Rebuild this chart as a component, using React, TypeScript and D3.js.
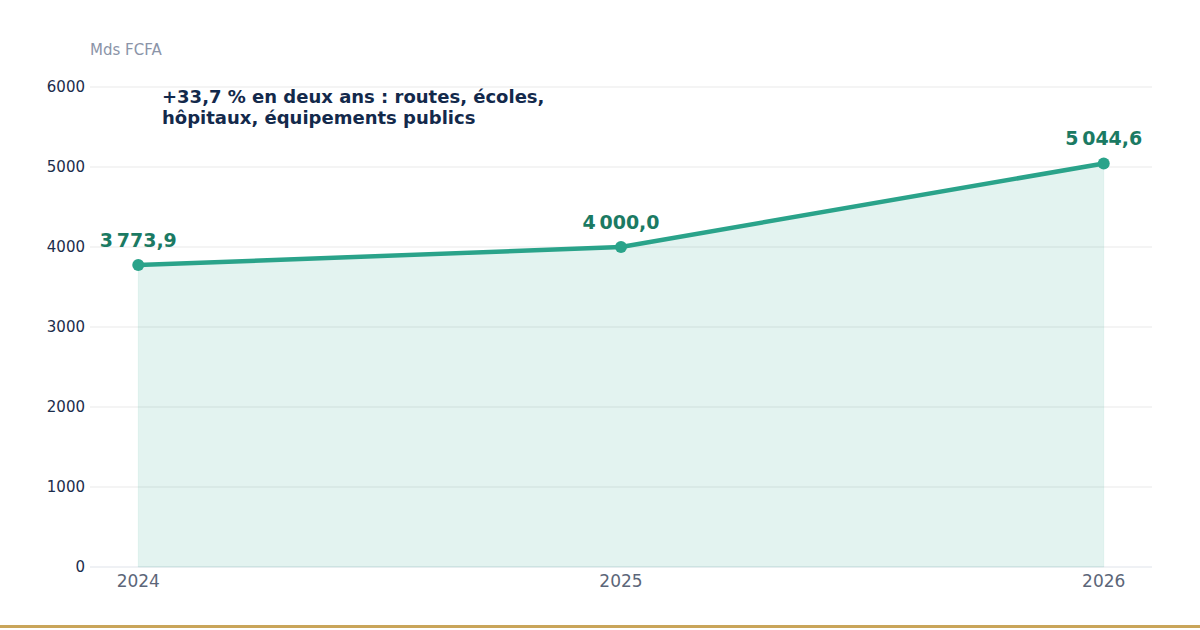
import * as d3 from "d3";
import { useEffect, useRef } from "react";

const years = ["2024", "2025", "2026"];
const values = [3773.9, 4000.0, 5044.6];
const valueLabels = ["3\u202f773,9", "4\u202f000,0", "5\u202f044,6"];
const yTicks = [0, 1000, 2000, 3000, 4000, 5000, 6000];
const unitLabel = "Mds FCFA";
const noteLines = ["+33,7 % en deux ans : routes, écoles,", "hôpitaux, équipements publics"];

export default function App() {
  const ref = useRef<SVGSVGElement | null>(null);

  useEffect(() => {
    document.body.style.margin = "0";
    if (!ref.current) return;

    const width = 1200;
    const height = 630;
    const margin = { top: 87, right: 48, bottom: 63, left: 90 };
    const font = "'DejaVu Sans', sans-serif";
    const svg = d3.select(ref.current);
    svg.selectAll("*").remove();

    svg.append("rect").attr("width", width).attr("height", height).attr("fill", "#ffffff");

    const x = d3
      .scalePoint<string>()
      .domain(years)
      .range([margin.left, width - margin.right])
      .padding(0.1);
    const y = d3
      .scaleLinear()
      .domain([0, 6000])
      .range([height - margin.bottom, margin.top]);

    // grid
    svg
      .append("g")
      .selectAll("line")
      .data(yTicks)
      .join("line")
      .attr("x1", margin.left)
      .attr("x2", width - margin.right)
      .attr("y1", (d) => y(d))
      .attr("y2", (d) => y(d))
      .attr("stroke", (d) => (d === 0 ? "#dfe3ea" : "#e9e9e9"))
      .attr("stroke-width", 1);

    // y tick labels
    svg
      .append("g")
      .selectAll("text")
      .data(yTicks)
      .join("text")
      .attr("x", margin.left - 5)
      .attr("y", (d) => y(d))
      .attr("dy", "0.35em")
      .attr("text-anchor", "end")
      .attr("font-family", font)
      .attr("font-size", 15)
      .attr("fill", "#1c2d4c")
      .text((d) => String(d));

    // x tick labels
    svg
      .append("g")
      .selectAll("text")
      .data(years)
      .join("text")
      .attr("x", (d) => x(d)!)
      .attr("y", height - margin.bottom + 20)
      .attr("text-anchor", "middle")
      .attr("font-family", font)
      .attr("font-size", 17)
      .attr("fill", "#5c6679")
      .text((d) => d);

    const pts = years.map((yr, i) => [x(yr)!, y(values[i])] as [number, number]);

    const area = d3
      .area<[number, number]>()
      .x((d) => d[0])
      .y0(y(0))
      .y1((d) => d[1]);
    svg
      .append("path")
      .attr("d", area(pts))
      .attr("fill", "#2aa38a")
      .attr("fill-opacity", 0.13)
      .attr("stroke", "#2aa38a")
      .attr("stroke-opacity", 0.08)
      .attr("stroke-width", 1);

    const line = d3.line<[number, number]>().x((d) => d[0]).y((d) => d[1]);
    svg
      .append("path")
      .attr("d", line(pts))
      .attr("fill", "none")
      .attr("stroke", "#2aa38a")
      .attr("stroke-width", 4.5)
      .attr("stroke-linejoin", "round");

    svg
      .append("g")
      .selectAll("circle")
      .data(pts)
      .join("circle")
      .attr("cx", (d) => d[0])
      .attr("cy", (d) => d[1])
      .attr("r", 6)
      .attr("fill", "#2aa38a");

    svg
      .append("g")
      .selectAll("text")
      .data(pts)
      .join("text")
      .attr("x", (d) => d[0])
      .attr("y", (d) => d[1] - 18)
      .attr("text-anchor", "middle")
      .attr("font-family", font)
      .attr("font-weight", "bold")
      .attr("font-size", 19)
      .attr("fill", "#1b7a63")
      .text((_, i) => valueLabels[i]);

    svg
      .append("text")
      .attr("x", margin.left)
      .attr("y", 55)
      .attr("font-family", font)
      .attr("font-size", 15)
      .attr("fill", "#8b94a8")
      .text(unitLabel);

    svg
      .append("g")
      .selectAll("text")
      .data(noteLines)
      .join("text")
      .attr("x", 162)
      .attr("y", (_, i) => 103 + i * 21)
      .attr("font-family", font)
      .attr("font-weight", "bold")
      .attr("font-size", 18)
      .attr("fill", "#13294b")
      .text((d) => d);

    svg
      .append("rect")
      .attr("x", 0)
      .attr("y", 625)
      .attr("width", width)
      .attr("height", 3)
      .attr("fill", "#c9a55a");
  }, []);

  return <svg ref={ref} width={1200} height={630} style={{ display: "block" }} />;
}
